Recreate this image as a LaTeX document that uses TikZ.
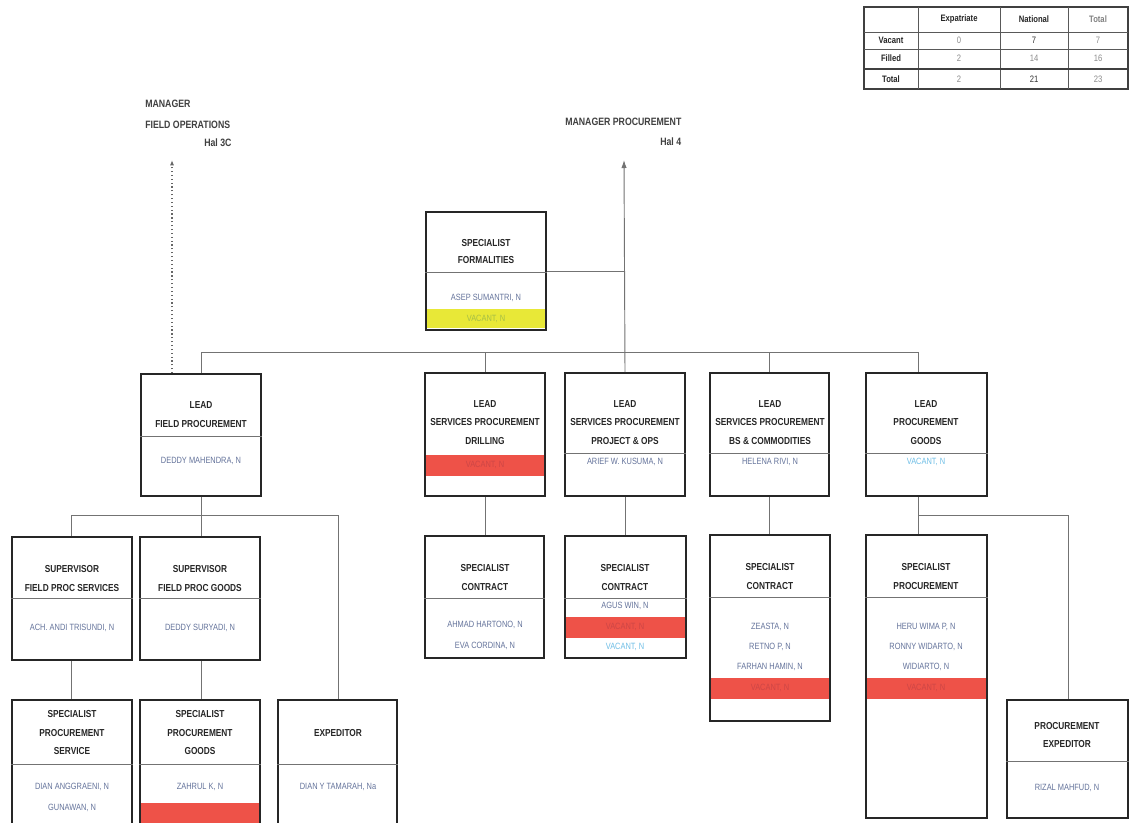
\documentclass[tikz,border=0pt]{standalone}
\usepackage{fontspec}
\setmainfont{Liberation Sans}
\newfontfamily\condf[FakeStretch=0.82]{Liberation Sans}
\usetikzlibrary{fit,arrows.meta}
\definecolor{nmcol}{RGB}{100,115,155}
\definecolor{vacred}{RGB}{238,82,72}
\definecolor{rdtxt}{RGB}{205,70,70}
\definecolor{vacyel}{RGB}{232,232,55}
\definecolor{yltxt}{RGB}{165,190,70}
\definecolor{lbtxt}{RGB}{110,190,230}
\tikzset{
 box/.style={draw=black!85,line width=1.2pt,inner sep=0pt},
 ttl/.style={font=\condf\bfseries\fontsize{7.6}{9}\selectfont,text=black!85,inner sep=0pt},
 nme/.style={font=\condf\fontsize{6.8}{8}\selectfont,text=nmcol,inner sep=0pt},
 rednm/.style={nme,text=rdtxt},
 blunm/.style={nme,text=lbtxt},
 yelnm/.style={nme,text=yltxt},
 divl/.style={draw=black!55,line width=0.6pt},
 conn/.style={draw=black!55,line width=0.7pt},
 mgr/.style={font=\condf\bfseries\fontsize{8}{9}\selectfont,text=black!75,inner sep=0pt,anchor=west},
 tbl/.style={font=\condf\bfseries\fontsize{7}{8}\selectfont,text=black!85,inner sep=0pt},
 tval/.style={font=\condf\fontsize{7}{8}\selectfont,text=black!45,inner sep=0pt},
}
\newcommand{\obox}[5]{\coordinate (#1-a) at (#2,#3); \coordinate (#1-b) at (#4,#5); \node[box,fit=(#1-a)(#1-b)] (#1) {};}
\newcommand{\vband}[5]{\fill[#1] (#2,#3) rectangle (#4,#5);}
\newcommand{\dvd}[2]{\draw[divl] (#1.west |- 0,#2) -- (#1.east |- 0,#2);}
\begin{document}
\begin{tikzpicture}[x=0.75pt,y=-0.75pt]
\useasboundingbox[fill=white] (0,0) rectangle (1134,822);

% ---------- table ----------
\draw[black!75,line width=0.8pt] (864,7) rectangle (1128,89);
\foreach \xx in {918,1000,1068} \draw[black!65,line width=0.6pt] (\xx,7) -- (\xx,89);
\foreach \yy in {32,49} \draw[black!65,line width=0.6pt] (864,\yy) -- (1128,\yy);
\draw[black!75,line width=1pt] (864,69) -- (1128,69);
\node[tbl] (th1) at (959,19) {Expatriate};
\node[tbl] (th2) at (1034,19) {National};
\node[tbl,text=black!50] (th3) at (1098,19) {Total};
\node[tbl] (tr1) at (891,40) {Vacant};
\node[tbl] (tr2) at (891,58) {Filled};
\node[tbl] (tr3) at (891,79) {Total};
\node[tval] (v11) at (959,40) {0};
\node[tval,text=black!80] (v12) at (1034,40) {7};
\node[tval] (v13) at (1098,40) {7};
\node[tval] (v21) at (959,58) {2};
\node[tval] (v22) at (1034,58) {14};
\node[tval] (v23) at (1098,58) {16};
\node[tval] (v31) at (959,79) {2};
\node[tval,text=black!80] (v32) at (1034,79) {21};
\node[tval] (v33) at (1098,79) {23};

% ---------- managers ----------
\node[mgr] (mfo1) at (145,104) {MANAGER};
\node[mgr] (mfo2) at (145,125) {FIELD OPERATIONS};
\node[mgr] (mfo3) at (204,143) {Hal 3C};
\coordinate (mfoa) at (172,160);
\node[mgr] (mp1) at (565,122) {MANAGER PROCUREMENT};
\node[mgr] (mp2) at (660,142) {Hal 4};
\coordinate (mpa) at (624,160);

% ---------- bands ----------
\vband{vacyel}{427}{309}{545}{328}
\vband{vacred}{426}{455}{544}{476}
\vband{vacred}{566}{617}{685}{638}
\vband{vacred}{711}{678}{829}{699}
\vband{vacred}{867}{678}{986}{699}
\vband{vacred}{141}{803}{259}{826}

% ---------- boxes ----------
\obox{sf}{426}{212}{546}{330}
\obox{lf}{141}{374}{261}{496}
\obox{ld}{425}{373}{545}{496}
\obox{lp}{565}{373}{685}{496}
\obox{lb}{710}{373}{829}{496}
\obox{lg}{866}{373}{987}{496}
\obox{ss}{12}{537}{132}{660}
\obox{sg}{140}{537}{260}{660}
\obox{sc1}{425}{536}{544}{658}
\obox{sc2}{565}{536}{686}{658}
\obox{sc3}{710}{535}{830}{721}
\obox{sp}{866}{535}{987}{818}
\obox{sps}{12}{700}{132}{830}
\obox{spg}{140}{700}{260}{830}
\obox{ex}{278}{700}{397}{830}
\obox{pe}{1007}{700}{1128}{818}

% ---------- dividers ----------
\dvd{sf}{272}
\dvd{lf}{436}
\dvd{lp}{453}
\dvd{lb}{453}
\dvd{lg}{453}
\dvd{ss}{598}
\dvd{sg}{598}
\dvd{sc1}{598}
\dvd{sc2}{598}
\dvd{sc3}{597}
\dvd{sp}{597}
\dvd{sps}{764}
\dvd{spg}{764}
\dvd{ex}{764}
\dvd{pe}{761}

% ---------- texts ----------
\node[ttl] (sf-t1) at (486,243) {SPECIALIST};
\node[ttl] (sf-t2) at (486,260) {FORMALITIES};
\node[nme] (sf-n1) at (486,298) {ASEP SUMANTRI, N};
\node[yelnm] (sf-n2) at (486,319) {VACANT, N};

\node[ttl] (lf-t1) at (201,405) {LEAD};
\node[ttl] (lf-t2) at (201,424) {FIELD PROCUREMENT};
\node[nme] (lf-n1) at (201,461) {DEDDY MAHENDRA, N};

\node[ttl] (ld-t1) at (485,404) {LEAD};
\node[ttl] (ld-t2) at (485,422) {SERVICES PROCUREMENT};
\node[ttl] (ld-t3) at (485,441) {DRILLING};
\node[rednm] (ld-n1) at (485,465) {VACANT, N};

\node[ttl] (lp-t1) at (625,404) {LEAD};
\node[ttl] (lp-t2) at (625,422) {SERVICES PROCUREMENT};
\node[ttl] (lp-t3) at (625,441) {PROJECT \& OPS};
\node[nme] (lp-n1) at (625,462) {ARIEF W. KUSUMA, N};

\node[ttl] (lb-t1) at (770,404) {LEAD};
\node[ttl] (lb-t2) at (770,422) {SERVICES PROCUREMENT};
\node[ttl] (lb-t3) at (770,441) {BS \& COMMODITIES};
\node[nme] (lb-n1) at (770,462) {HELENA RIVI, N};

\node[ttl] (lg-t1) at (926,404) {LEAD};
\node[ttl] (lg-t2) at (926,422) {PROCUREMENT};
\node[ttl] (lg-t3) at (926,441) {GOODS};
\node[blunm] (lg-n1) at (926,462) {VACANT, N};

\node[ttl] (ss-t1) at (72,569) {SUPERVISOR};
\node[ttl] (ss-t2) at (72,588) {FIELD PROC SERVICES};
\node[nme] (ss-n1) at (72,628) {ACH. ANDI TRISUNDI, N};

\node[ttl] (sg-t1) at (200,569) {SUPERVISOR};
\node[ttl] (sg-t2) at (200,588) {FIELD PROC GOODS};
\node[nme] (sg-n1) at (200,628) {DEDDY SURYADI, N};

\node[ttl] (sc1-t1) at (485,568) {SPECIALIST};
\node[ttl] (sc1-t2) at (485,587) {CONTRACT};
\node[nme] (sc1-n1) at (485,625) {AHMAD HARTONO, N};
\node[nme] (sc1-n2) at (485,646) {EVA CORDINA, N};

\node[ttl] (sc2-t1) at (625,568) {SPECIALIST};
\node[ttl] (sc2-t2) at (625,587) {CONTRACT};
\node[nme] (sc2-n1) at (625,606) {AGUS WIN, N};
\node[rednm] (sc2-n2) at (625,627) {VACANT, N};
\node[blunm] (sc2-n3) at (625,647) {VACANT, N};

\node[ttl] (sc3-t1) at (770,567) {SPECIALIST};
\node[ttl] (sc3-t2) at (770,586) {CONTRACT};
\node[nme] (sc3-n1) at (770,627) {ZEASTA, N};
\node[nme] (sc3-n2) at (770,647) {RETNO P, N};
\node[nme] (sc3-n3) at (770,667) {FARHAN HAMIN, N};
\node[rednm] (sc3-n4) at (770,688) {VACANT, N};

\node[ttl] (sp-t1) at (926,567) {SPECIALIST};
\node[ttl] (sp-t2) at (926,586) {PROCUREMENT};
\node[nme] (sp-n1) at (926,627) {HERU WIMA P, N};
\node[nme] (sp-n2) at (926,647) {RONNY WIDARTO, N};
\node[nme] (sp-n3) at (926,667) {WIDIARTO, N};
\node[rednm] (sp-n4) at (926,688) {VACANT, N};

\node[ttl] (sps-t1) at (72,714) {SPECIALIST};
\node[ttl] (sps-t2) at (72,733) {PROCUREMENT};
\node[ttl] (sps-t3) at (72,751) {SERVICE};
\node[nme] (sps-n1) at (72,787) {DIAN ANGGRAENI, N};
\node[nme] (sps-n2) at (72,808) {GUNAWAN, N};

\node[ttl] (spg-t1) at (200,714) {SPECIALIST};
\node[ttl] (spg-t2) at (200,733) {PROCUREMENT};
\node[ttl] (spg-t3) at (200,751) {GOODS};
\node[nme] (spg-n1) at (200,787) {ZAHRUL K, N};

\node[ttl] (ex-t1) at (338,733) {EXPEDITOR};
\node[nme] (ex-n1) at (338,787) {DIAN Y TAMARAH, Na};

\node[ttl] (pe-t1) at (1067,726) {PROCUREMENT};
\node[ttl] (pe-t2) at (1067,744) {EXPEDITOR};
\node[nme] (pe-n1) at (1067,788) {RIZAL MAHFUD, N};

% ---------- connectors ----------
\coordinate (busA) at (0,352);
\coordinate (busB) at (0,515);
\coordinate (lfx) at (201,0);
\coordinate (lgx) at (918,0);
\coordinate (ldx) at (485,0);
\coordinate (lbx) at (769,0);
\coordinate (ssx) at (71,0);
\coordinate (exx) at (338,0);
\coordinate (pex) at (1068,0);

\draw[conn,-{Latex[length=6pt,width=4pt]}] (lp.north) -- (mpa);
\draw[conn] (lf.north -| lfx) -- (lfx |- busA) -- (lgx |- busA) -- (lg.north -| lgx);
\draw[conn] (ldx |- busA) -- (ld.north -| ldx);
\draw[conn] (lbx |- busA) -- (lb.north -| lbx);
\draw[conn] (sf.east) -- (sf.east -| lp.north);
\draw[black!60,line width=0.9pt,dotted,-{Latex[length=4pt,width=3pt]}] (lf.north -| mfoa) -- (mfoa);

\draw[conn] (lf.south -| lfx) -- (lfx |- busB);
\draw[conn] (ss.north -| ssx) -- (ssx |- busB) -- (exx |- busB) -- (ex.north -| exx);
\draw[conn] (lfx |- busB) -- (sg.north -| lfx);
\draw[conn] (ss.south -| ssx) -- (sps.north -| ssx);
\draw[conn] (sg.south -| lfx) -- (spg.north -| lfx);

\draw[conn] (ld.south -| ldx) -- (sc1.north -| ldx);
\draw[conn] (lp.south) -- (sc2.north -| lp.south);
\draw[conn] (lb.south -| lbx) -- (sc3.north -| lbx);

\draw[conn] (lg.south -| lgx) -- (sp.north -| lgx);
\draw[conn] (lgx |- busB) -- (pex |- busB) -- (pe.north -| pex);
\end{tikzpicture}
\end{document}
